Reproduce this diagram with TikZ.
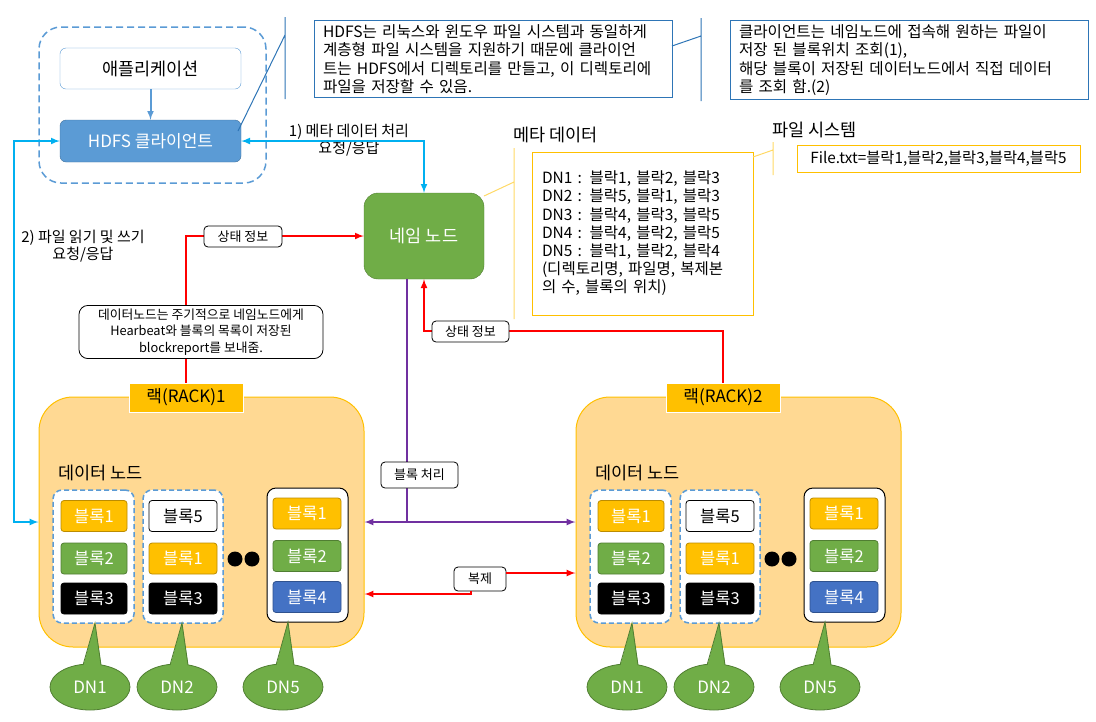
\documentclass[tikz,border=0pt]{standalone}
\usepackage{fontspec}
\setmainfont{Noto Sans CJK KR}
\usetikzlibrary{shapes.geometric}
\definecolor{msblue}{HTML}{5B9BD5}
\definecolor{msbluedk}{HTML}{41719C}
\definecolor{noteblue}{HTML}{2E75B6}
\definecolor{mscyan}{HTML}{00B0F0}
\definecolor{msred}{HTML}{FF0000}
\definecolor{mspurple}{HTML}{7030A0}
\definecolor{msgold}{HTML}{FFC000}
\definecolor{msgolddk}{HTML}{BC8C00}
\definecolor{msgreen}{HTML}{70AD47}
\definecolor{msgreendk}{HTML}{507E32}
\definecolor{msnavy}{HTML}{4472C4}
\definecolor{msnavydk}{HTML}{2F528F}
\definecolor{rackfill}{HTML}{FFD993}
\definecolor{msyellowln}{HTML}{FFD966}
\begin{document}
\begin{tikzpicture}[x=1pt,y=-1pt,
    txt/.style={inner sep=0pt},
    note/.style={draw=noteblue,line width=1pt,fill=white,align=left,text width=340pt,inner xsep=9pt,font=\fontsize{15.6}{18.5}\selectfont},
    tag/.style={draw=black,fill=white,rounded corners=4pt,line width=0.8pt,inner sep=0pt,font=\fontsize{13}{14}\selectfont},
    blk/.style={rounded corners=3pt,line width=0.8pt,minimum width=66pt,minimum height=31pt,inner sep=0pt,text=white,font=\fontsize{16.5}{17}\selectfont},
    blky/.style={blk,fill=msgold,draw=msgolddk},
    blkg/.style={blk,fill=msgreen,draw=msgreendk},
    blkk/.style={blk,fill=black,draw=black},
    blkb/.style={blk,fill=msnavy,draw=msnavydk},
    blkw/.style={blk,fill=white,draw=black,text=black},
    dngrp/.style={draw=msblue,fill=white,line width=1.5pt,dash pattern=on 5pt off 3pt,rounded corners=9pt},
    dnbox/.style={draw=black,fill=white,line width=1pt,rounded corners=9pt},
    dn/.style={ellipse,fill=msgreen,draw=msgreendk,line width=0.8pt,minimum width=80pt,minimum height=46pt,inner sep=0pt,text=white,font=\fontsize{17}{17}\selectfont},
    link/.style={line width=2pt}]
  \useasboundingbox (0,0) rectangle (1096,721);

  \node[draw=msblue,line width=1.5pt,dash pattern=on 7pt off 4pt,rounded corners=22pt,minimum width=227pt,minimum height=156pt] (clientgrp) at (152.5,105) {};
  \node[draw=msblue,fill=white,rounded corners=6pt,minimum width=181pt,minimum height=41pt,font=\fontsize{17.5}{17.5}\selectfont] (app) at (150.5,68.5) {애플리케이션};
  \node[draw=msbluedk,fill=msblue,text=white,rounded corners=6pt,minimum width=181pt,minimum height=42pt,font=\fontsize{17}{17}\selectfont] (client) at (150.5,141) {HDFS 클라이언트};
  \draw[-latex,msblue,link] (app) -- (client);

  \draw[noteblue,line width=1pt] (285,17) -- (285,99) (285,35) -- (238,131);
  \node[note,minimum height=74pt] (note1) at (493,59) {HDFS는 리눅스와 윈도우 파일 시스템과 동일하게\\계층형 파일 시스템을 지원하기 때문에 클라이언\\트는 HDFS에서 디렉토리를 만들고, 이 디렉토리에\\파일을 저장할 수 있음.};
  \node[note,minimum height=74pt] (note2) at (909,60) {클라이언트는 네임노드에 접속해 원하는 파일이\\저장 된 블록위치 조회(1),\\해당 블록이 저장된 데이터노드에서 직접 데이터\\를 조회 함.(2)};
  \draw[noteblue,line width=1pt] (701,18) -- (701,101) (701,36) -- (672,46);

  \node[fill=msgreen,draw=msgreendk,rounded corners=14pt,minimum width=120pt,minimum height=86pt,text=white,font=\fontsize{17.5}{17.5}\selectfont] (name) at (424,236) {네임 노드};

  \draw[msyellowln,line width=1pt] (514,148) -- (514,319) (514,182) -- (484,196);
  \node[txt,anchor=west,font=\fontsize{17.5}{17.5}\selectfont] (metattl) at (513,135) {메타 데이터};
  \node[draw=msgold,line width=1pt,fill=white,align=left,text width=201pt,inner xsep=10pt,minimum height=163pt,font=\fontsize{15.5}{18.2}\selectfont] (meta) at (642.5,233.5) {DN1 : 블락1, 블락2, 블락3\\DN2 : 블락5, 블락1, 블락3\\DN3 : 블락4, 블락3, 블락5\\DN4 : 블락4, 블락2, 블락5\\DN5 : 블락1, 블락2, 블락4\\(디렉토리명, 파일명, 복제본\\의 수, 블록의 위치)};

  \node[txt,anchor=west,font=\fontsize{17.5}{17.5}\selectfont] (fsttl) at (772,130) {파일 시스템};
  \draw[msyellowln,line width=1pt] (773,142) -- (773,175) (773,150) -- (753,157);
  \node[draw=msgold,line width=1pt,fill=white,minimum width=283pt,minimum height=27pt,font=\fontsize{15.3}{15.3}\selectfont] (fs) at (938.5,158.5) {File.txt=블락1,블락2,블락3,블락4,블락5};

  \node[txt,align=center,font=\fontsize{15}{17}\selectfont] (req1) at (349,140.5) {1) 메타 데이터 처리\\요청/응답};
  \node[txt,align=center,font=\fontsize{15}{17}\selectfont] (req2) at (83,246) {2) 파일 읽기 및 쓰기\\요청/응답};

  \foreach \rk/\dx in {1/0,2/537}{
    \begin{scope}[xshift=\dx]
      \node[draw=msgold,fill=rackfill,line width=1pt,rounded corners=34pt,minimum width=325pt,minimum height=250pt] (rack\rk) at (201.5,522) {};
      \node[fill=msgold,draw=white,line width=1pt,minimum width=114pt,minimum height=29pt,font=\fontsize{17}{17}\selectfont] (lab\rk) at (186,397.5) {랙(RACK)\rk};
      \node[txt,anchor=west,font=\fontsize{17.5}{17.5}\selectfont] (dtitle\rk) at (58,473) {데이터 노드};
      \node[dngrp,minimum width=81pt,minimum height=133pt] (grpa\rk) at (93.5,556.5) {};
      \node[dngrp,minimum width=80pt,minimum height=133pt] (grpb\rk) at (183,556.5) {};
      \node[dnbox,minimum width=81pt,minimum height=134pt] (grpc\rk) at (307.5,555) {};
      \node[blky] (a1\rk) at (94,516) {블록1};
      \node[blkg] (a2\rk) at (94,558.5) {블록2};
      \node[blkk] (a3\rk) at (94,598.5) {블록3};
      \node[blkw,minimum width=68pt] (b1\rk) at (183,516) {블록5};
      \node[blky,minimum width=68pt] (b2\rk) at (183,558.5) {블록1};
      \node[blkk,minimum width=68pt] (b3\rk) at (183,598.5) {블록3};
      \node[blky,minimum width=68pt] (c1\rk) at (307,513.5) {블록1};
      \node[blkg,minimum width=68pt] (c2\rk) at (307,556) {블록2};
      \node[blkb,minimum width=68pt] (c3\rk) at (307,597) {블록4};
      \fill (235,559) circle (7.5pt) (252,559) circle (7.5pt);
      \foreach \n/\cx/\ty in {1/90/623,2/177/623,5/283/622}{
        \node[dn] (dn\n-\rk) at (\cx,687) {DN\n};
        \fill[msgreen] (\cx-8,670) -- (\cx+5,\ty) -- (\cx+12,670) -- cycle;
        \draw[msgreendk,line width=0.8pt] (\cx-7,665) -- (\cx+5,\ty) -- (\cx+11,665);
      }
    \end{scope}
  }

  \draw[latex-latex,mscyan,link] (client.east) -| (name.north);
  \draw[latex-latex,mscyan,link] (client.west) -- ++(-46,0) |- (rack1.west);

  \draw[-latex,msred,link] (lab1.north) |- (name.west);
  \draw[-latex,msred,link] (lab2.north) -- ++(0,-52) -| (name.south);

  \draw[mspurple,link] ([xshift=-17pt]name.south) -- ++(0,243);
  \draw[latex-latex,mspurple,link] (rack1.east) -- (rack2.west);

  \node[tag,minimum width=52pt,minimum height=24pt] (copy) at (480,579) {복제};
  \draw[-latex,msred,link] (copy.east |- 0,573) -- (rack2.west |- 0,573);
  \draw[-latex,msred,link] ([xshift=-9pt]copy.south) |- (rack1.east |- 0,594);

  \node[tag,minimum width=78pt,minimum height=21pt] (state1) at (243,236.5) {상태 정보};
  \node[tag,minimum width=77pt,minimum height=21pt] (state2) at (470.5,331.5) {상태 정보};
  \node[tag,minimum width=77pt,minimum height=26pt] (proc) at (419.5,475) {블록 처리};
  \node[draw=black,fill=white,rounded corners=9pt,line width=0.8pt,minimum width=244pt,minimum height=52pt,align=center,font=\fontsize{12.8}{16.5}\selectfont] (report) at (201,332) {데이터노드는 주기적으로 네임노드에게\\Hearbeat와 블록의 목록이 저장된\\blockreport를 보내줌.};
\end{tikzpicture}
\end{document}
